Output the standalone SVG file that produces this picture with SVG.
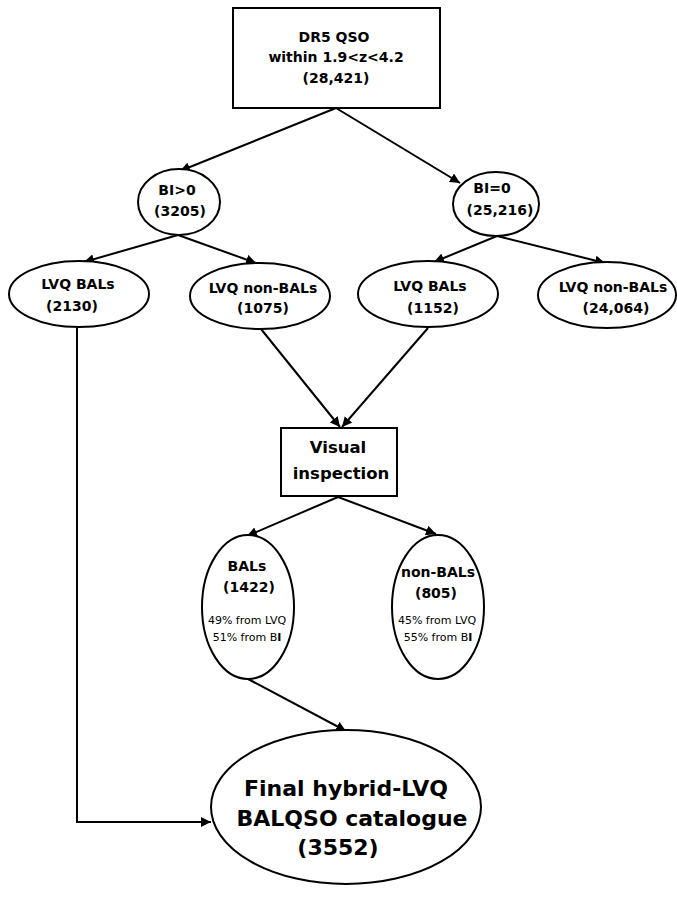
<svg xmlns="http://www.w3.org/2000/svg" width="677" height="911" viewBox="0 0 677 911">
<defs>
<style>
.n{fill:#fff;stroke:#000;stroke-width:2}
.t{font-family:"DejaVu Sans","Liberation Sans",sans-serif;font-weight:bold;font-size:14px;text-anchor:middle;fill:#000}
.b{font-size:16.5px}
.f{font-size:22px}
.s{font-family:"DejaVu Sans","Liberation Sans",sans-serif;font-size:11px;text-anchor:middle;fill:#000}
.c{fill:none;stroke:#000;stroke-width:2}
</style>
<marker id="a" viewBox="0 0 10 10" refX="10" refY="5" markerWidth="10" markerHeight="10" markerUnits="userSpaceOnUse" orient="auto">
<path d="M0,0 L10,5 L0,10 z" fill="#000"/>
</marker>
</defs>
<rect width="677" height="911" fill="#fff"/>
<g id="connectors">
<path class="c" marker-end="url(#a)" d="M336,108 L180,171"/>
<path class="c" marker-end="url(#a)" d="M336,108 L460,183"/>
<path class="c" marker-end="url(#a)" d="M178,235 L84,262"/>
<path class="c" marker-end="url(#a)" d="M178,235 L256,263"/>
<path class="c" marker-end="url(#a)" d="M497,236 L434,262"/>
<path class="c" marker-end="url(#a)" d="M497,236 L605,263"/>
<path class="c" marker-end="url(#a)" d="M261,329 L340,427"/>
<path class="c" marker-end="url(#a)" d="M428,328 L342,427"/>
<path class="c" marker-end="url(#a)" d="M338,497 L247,536"/>
<path class="c" marker-end="url(#a)" d="M338,497 L436,534"/>
<path class="c" marker-end="url(#a)" d="M248,679 L346,731"/>
<path class="c" marker-end="url(#a)" d="M77,328 L77,822 L211,822"/>
</g>
<g id="n-dr5">
<rect class="n" x="233" y="8" width="207" height="100"/>
<text class="t" x="334" y="42">DR5 QSO</text>
<text class="t" x="336" y="62">within 1.9&lt;z&lt;4.2</text>
<text class="t" x="336" y="83">(28,421)</text>
</g>
<g id="n-bigt">
<ellipse class="n" cx="179" cy="202" rx="41" ry="33"/>
<text class="t" x="177" y="195">BI&gt;0</text>
<text class="t" x="180" y="216">(3205)</text>
</g>
<g id="n-bieq">
<ellipse class="n" cx="496" cy="204" rx="43" ry="32"/>
<text class="t" x="492" y="193">BI=0</text>
<text class="t" x="500" y="215">(25,216)</text>
</g>
<g id="n-lvqbal1">
<ellipse class="n" cx="79" cy="294" rx="70" ry="33"/>
<text class="t" x="78" y="289">LVQ BALs</text>
<text class="t" x="72" y="311">(2130)</text>
</g>
<g id="n-lvqnon1">
<ellipse class="n" cx="260" cy="296" rx="70" ry="33"/>
<text class="t" x="263" y="293">LVQ non-BALs</text>
<text class="t" x="263" y="313">(1075)</text>
</g>
<g id="n-lvqbal2">
<ellipse class="n" cx="428" cy="294" rx="70" ry="33"/>
<text class="t" x="430" y="291">LVQ BALs</text>
<text class="t" x="433" y="313">(1152)</text>
</g>
<g id="n-lvqnon2">
<ellipse class="n" cx="607" cy="295" rx="69" ry="33"/>
<text class="t" x="613" y="292">LVQ non-BALs</text>
<text class="t" x="616" y="313">(24,064)</text>
</g>
<g id="n-visual">
<rect class="n" x="281" y="428" width="116" height="68"/>
<text class="t b" x="338" y="453">Visual</text>
<text class="t b" x="341" y="479">inspection</text>
</g>
<g id="n-bals">
<ellipse class="n" cx="248" cy="607" rx="46" ry="72"/>
<text class="t" x="247" y="571">BALs</text>
<text class="t" x="249" y="592">(1422)</text>
<text class="s" x="247" y="624">49% from LVQ</text>
<text class="s" x="247" y="641">51% from B<tspan font-weight="bold">I</tspan></text>
</g>
<g id="n-nonbals">
<ellipse class="n" cx="438" cy="607" rx="46" ry="72"/>
<text class="t" x="438" y="577">non-BALs</text>
<text class="t" x="436" y="598">(805)</text>
<text class="s" x="437" y="624">45% from LVQ</text>
<text class="s" x="438" y="641">55% from B<tspan font-weight="bold">I</tspan></text>
</g>
<g id="n-final">
<ellipse class="n" cx="346" cy="807" rx="135" ry="77"/>
<text class="t f" x="346" y="796">Final hybrid-LVQ</text>
<text class="t f" x="352" y="826">BALQSO catalogue</text>
<text class="t f" x="338" y="855">(3552)</text>
</g>
</svg>
